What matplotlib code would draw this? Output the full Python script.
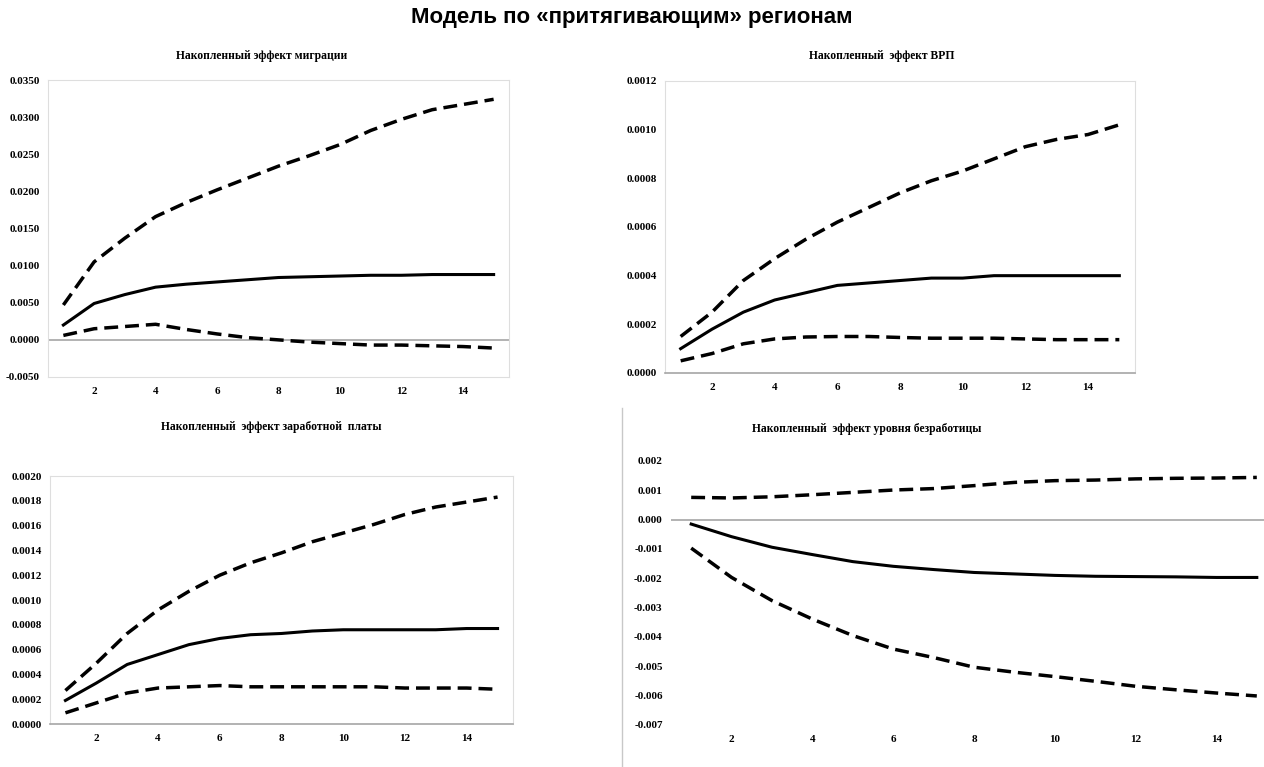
import matplotlib
matplotlib.use('Agg')
import numpy as np
import matplotlib.pyplot as plt
from matplotlib.lines import Line2D

# periods
periods = list(range(1, 16))
xticks = [2, 4, 6, 8, 10, 12, 14]

# migration
mig_mid = [0.0020, 0.0049, 0.0061, 0.0071, 0.0075, 0.0078, 0.0081, 0.0084, 0.0085, 0.0086, 0.0087, 0.0087, 0.0088, 0.0088, 0.0088]
mig_up = [0.0047, 0.0105, 0.0137, 0.0166, 0.0185, 0.0202, 0.0218, 0.0234, 0.0248, 0.0263, 0.0282, 0.0297, 0.0310, 0.0317, 0.0324]
mig_lo = [0.0006, 0.0015, 0.0018, 0.0021, 0.0014, 0.0008, 0.0003, 0.0000, -0.0003, -0.0005, -0.0007, -0.0007, -0.0008, -0.0009, -0.0011]

# GRP
grp_mid = [0.00010, 0.00018, 0.00025, 0.00030, 0.00033, 0.00036, 0.00037, 0.00038, 0.00039, 0.00039, 0.00040, 0.00040, 0.00040, 0.00040, 0.00040]
grp_up = [0.00015, 0.00025, 0.00038, 0.00047, 0.00055, 0.00062, 0.00068, 0.00074, 0.00079, 0.00083, 0.00088, 0.00093, 0.00096, 0.00098, 0.00102]
grp_lo = [0.00005, 0.00008, 0.00012, 0.00014, 0.000148, 0.00015, 0.00015, 0.000146, 0.000143, 0.000143, 0.000143, 0.00014, 0.000137, 0.000137, 0.000137]

# wages
wage_mid = [0.00019, 0.00033, 0.00048, 0.00056, 0.00064, 0.00069, 0.00072, 0.00073, 0.00075, 0.00076, 0.00076, 0.00076, 0.00076, 0.00077, 0.00077]
wage_up = [0.00027, 0.00049, 0.00073, 0.00092, 0.00107, 0.00120, 0.00130, 0.00138, 0.00147, 0.00154, 0.00161, 0.00169, 0.00175, 0.00179, 0.00183]
wage_lo = [0.00009, 0.00017, 0.00025, 0.00029, 0.00030, 0.00031, 0.00030, 0.00030, 0.00030, 0.00030, 0.00030, 0.00029, 0.00029, 0.00029, 0.00028]

# unemployment
unemp_mid = [-0.00015, -0.00058, -0.00094, -0.00119, -0.00143, -0.00159, -0.00170, -0.00180, -0.00185, -0.00190, -0.00193, -0.00194, -0.00195, -0.00197, -0.00197]
unemp_up = [0.00076, 0.00074, 0.00078, 0.00085, 0.00093, 0.00101, 0.00106, 0.00116, 0.00127, 0.00133, 0.00135, 0.00139, 0.00141, 0.00142, 0.00144]
unemp_lo = [-0.00097, -0.00197, -0.00276, -0.00339, -0.00395, -0.00441, -0.00470, -0.00503, -0.00520, -0.00535, -0.00551, -0.00568, -0.00580, -0.00591, -0.00601]

W, H = 1264, 767

def box(l, t, r, b):
    return [l / W, (H - b) / H, (r - l) / W, (b - t) / H]

fig = plt.figure(figsize=(12.64, 7.67), dpi=100)

serif = 'Liberation Serif'

def panel(pos, mid, up, lo, yticks, fmt, title, title_xy, frame=True, bottom_zero=False):
    ax = fig.add_axes(box(*pos))
    ax.plot(periods, up, color='black', lw=2.5, ls=(0, (4, 2)))
    ax.plot(periods, lo, color='black', lw=2.5, ls=(0, (4, 2)))
    ax.plot(periods, mid, color='black', lw=2.2)
    ax.set_xlim(0.5, 15.5)
    ax.set_ylim(yticks[0], yticks[-1])
    ax.set_xticks(xticks)
    ax.set_yticks(yticks)
    ax.set_yticklabels([fmt % v for v in yticks])
    ax.tick_params(length=0, labelsize=8)
    ax.tick_params(axis='x', pad=7)
    ax.tick_params(axis='y', pad=6)
    for lab in ax.get_xticklabels() + ax.get_yticklabels():
        lab.set_fontfamily(serif)
        lab.set_fontweight('bold')
    for s in ax.spines.values():
        s.set_color('#dedede')
        s.set_linewidth(0.8)
        s.set_visible(frame)
    if bottom_zero:
        ax.spines['bottom'].set_color('#a6a6a6')
        ax.spines['bottom'].set_linewidth(1.2)
    elif yticks[0] < 0:
        ax.axhline(0, color='#a6a6a6', lw=1.2, zorder=1)
    fig.text(title_xy[0] / W, 1 - title_xy[1] / H, title, ha='center', va='center',
             fontfamily=serif, fontweight='bold', fontsize=8.4)
    return ax

panel((48, 80, 509, 377), mig_mid, mig_up, mig_lo,
      [-0.005, 0.0, 0.005, 0.010, 0.015, 0.020, 0.025, 0.030, 0.035], '%.4f',
      'Накопленный эффект миграции', (262, 56))

panel((665, 81, 1135, 373), grp_mid, grp_up, grp_lo,
      [0.0, 0.0002, 0.0004, 0.0006, 0.0008, 0.0010, 0.0012], '%.4f',
      'Накопленный  эффект ВРП', (882, 56), bottom_zero=True)

panel((50, 476, 513, 724), wage_mid, wage_up, wage_lo,
      [0.0, 0.0002, 0.0004, 0.0006, 0.0008, 0.0010, 0.0012, 0.0014, 0.0016, 0.0018, 0.0020], '%.4f',
      'Накопленный  эффект заработной  платы', (271, 427), bottom_zero=True)

panel((671, 461, 1277, 725), unemp_mid, unemp_up, unemp_lo,
      [-0.007, -0.006, -0.005, -0.004, -0.003, -0.002, -0.001, 0.0, 0.001, 0.002], '%.3f',
      'Накопленный  эффект уровня безработицы', (867, 429), frame=False)

# separator line left of the last panel
fig.add_artist(Line2D([622 / W, 622 / W], [0, 1 - 408 / H], color='#c8c8c8', lw=1))

fig.text(0.5, 1 - 17 / H, 'Модель по «притягивающим» регионам', ha='center', va='center',
         fontfamily='Liberation Sans', fontweight='bold', fontsize=16)

fig.savefig('out.png', dpi=100)
